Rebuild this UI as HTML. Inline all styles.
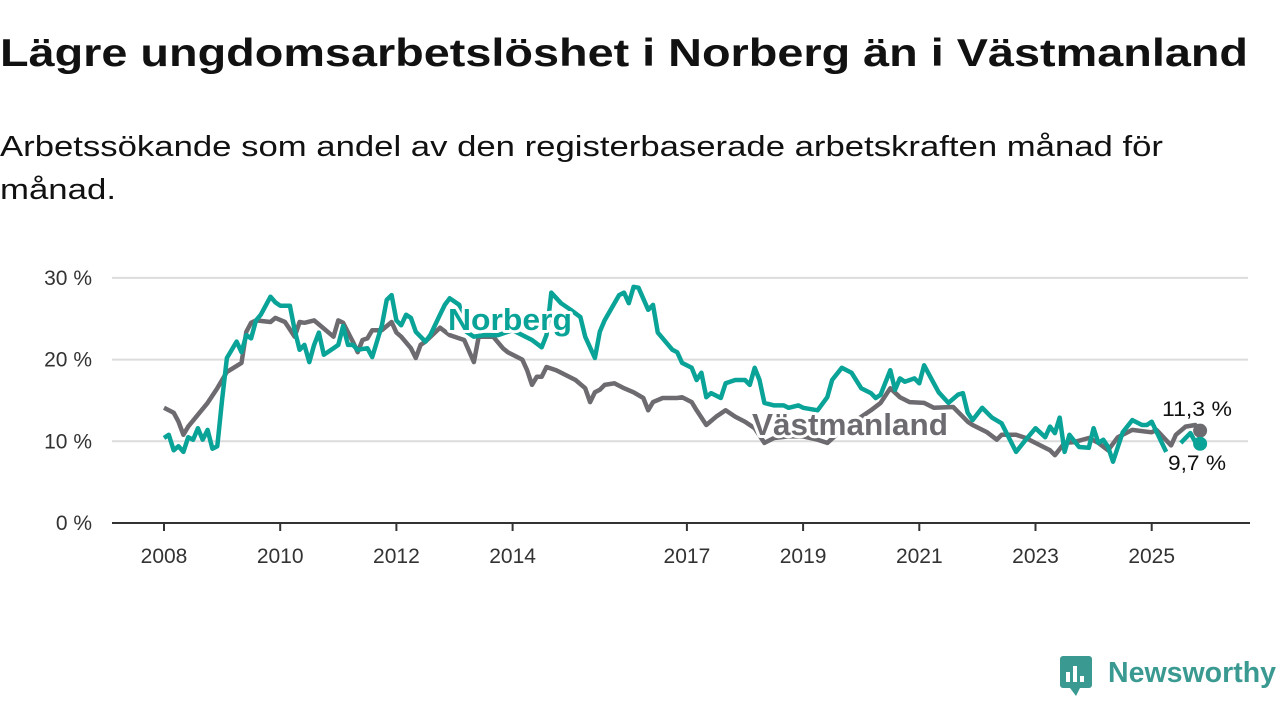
<!DOCTYPE html>
<html><head><meta charset="utf-8"><style>
body{margin:0;width:1280px;height:720px;background:#fff;overflow:hidden;font-family:"Liberation Sans",sans-serif}
</style></head><body>
<svg width="1280" height="720" xmlns="http://www.w3.org/2000/svg">
<text x="0" y="66" textLength="1248" lengthAdjust="spacingAndGlyphs" font-family="Liberation Sans, sans-serif" font-weight="bold" font-size="39" fill="#111">Lägre ungdomsarbetslöshet i Norberg än i Västmanland</text>
<text font-family="Liberation Sans, sans-serif" font-size="29" fill="#111"><tspan x="0" y="156" textLength="1163" lengthAdjust="spacingAndGlyphs">Arbetssökande som andel av den registerbaserade arbetskraften månad för</tspan><tspan x="0" y="199" textLength="116" lengthAdjust="spacingAndGlyphs">månad.</tspan></text>
<g id="grid"></g><g id="axes"></g><g id="lines"></g><g id="labels"></g>
<g>
<rect x="1060" y="656" width="32" height="32" rx="3" fill="#3a9a92"/>
<rect x="1066" y="672" width="4" height="10" fill="#fff"/><rect x="1073" y="666" width="4" height="16" fill="#fff"/><rect x="1080" y="676" width="4" height="6" fill="#fff"/>
<path d="M1070 688 L1076 696 L1080 688Z" fill="#3a9a92"/>
<text x="1108" y="682" textLength="168" lengthAdjust="spacingAndGlyphs" font-family="Liberation Sans, sans-serif" font-weight="bold" font-size="29" fill="#3a9a92">Newsworthy</text>
</g>
</svg>
<script>
const months=[0,1,2,3,4,5,6,7,8,9,10,11,12,13,15,16,17,18,19,20,22,23,24,26,27,28,29,30,31,32,33,35,36,37,38,39,40,42,43,45,46,47,48,49,50,51,52,54,55,57,58,59,61,62,64,66,69,72,76,78,79,80,82,84,86,87,89,90,91,94,95,96,97,98,100,101,102,105,106,107,109,110,111,112,113,115,116,118,120,121,122,123,124,126,128,129,131,132,135,137,138,140,142,144,146,147,148,150,151,152,153,155,156,157,159,160,162,164,165,166,167,169,171,173,176,178,180,182,183,184,185,186,187,189,191,192,193,194,195,196,198,200,202,203,204,207,208,210,212,213,214];
const norberg=[10.4,10.8,8.9,9.4,8.7,10.5,10.2,11.6,10.2,11.4,9.1,9.4,15.1,20.2,22.2,20.9,23.0,22.6,24.8,25.5,27.7,27.0,26.6,26.6,23.6,21.2,21.8,19.7,21.8,23.3,20.6,21.4,21.8,24.1,21.8,21.8,21.2,21.4,20.3,24.2,27.3,27.9,24.8,24.2,25.5,25.1,23.4,22.2,23.0,25.5,26.7,27.5,26.7,23.6,22.8,23.0,23.0,23.6,22.4,21.5,23.0,28.2,26.9,26.1,25.2,22.8,20.2,23.4,24.8,27.9,28.2,26.9,28.9,28.8,26.1,26.7,23.3,21.2,20.9,19.6,19.0,17.5,18.4,15.4,15.9,15.3,17.1,17.5,17.5,16.9,19.0,17.5,14.7,14.4,14.4,14.1,14.4,14.1,13.8,15.4,17.5,19.0,18.4,16.5,15.9,15.3,15.7,18.7,16.3,17.7,17.3,17.7,17.1,19.3,17.1,16.0,14.7,15.7,15.9,13.5,12.6,14.1,12.9,12.2,8.7,10.2,11.6,10.5,11.8,11.0,12.9,8.7,10.8,9.3,9.2,11.6,9.8,10.2,9.3,7.5,11.1,12.6,12.0,12.0,12.4,8.7,null,9.8,11.0,9.9,9.7];
const vmonths=[0,2,3,4,5,9,11,13,16,17,18,19,22,23,25,27,28,29,31,35,36,37,39,40,41,42,43,45,47,48,49,51,52,53,54,57,59,61,62,64,65,68,70,71,74,75,76,77,78,79,81,83,85,87,88,89,90,91,93,95,97,99,100,101,103,106,107,109,110,112,114,116,118,120,122,124,126,129,132,135,137,140,143,146,148,150,152,154,157,159,163,165,166,167,170,172,173,176,178,181,183,184,186,188,191,193,195,197,200,204,205,208,209,211,213,214];
const vastmanland=[14.1,13.5,12.4,10.8,11.8,14.7,16.5,18.5,19.6,23.4,24.5,24.8,24.6,25.1,24.6,22.8,24.6,24.5,24.8,22.8,24.8,24.5,22.2,20.9,22.4,22.6,23.6,23.6,24.6,23.3,22.8,21.4,20.2,21.8,22.2,23.9,23.0,22.6,22.4,19.7,22.8,22.8,21.4,20.9,20.0,18.7,16.9,17.9,17.9,19.1,18.7,18.1,17.5,16.5,14.8,16.0,16.3,16.9,17.1,16.5,16.0,15.3,13.8,14.8,15.3,15.3,15.4,14.8,13.8,12.0,13.0,13.8,13.0,12.4,11.6,9.8,10.4,10.6,10.6,10.2,9.8,11.4,12.6,13.8,14.7,16.5,15.4,14.8,14.7,14.1,14.2,13.0,12.4,12.0,11.1,10.2,10.8,10.8,10.4,9.5,8.9,8.3,9.8,9.9,10.4,9.8,8.9,10.5,11.4,11.1,11.4,9.5,10.8,11.8,12.0,11.3];
const yTicks=[0,10,20,30];
const yTickLabels=["0 %","10 %","20 %","30 %"];
const xTickMonths=[0,24,48,72,108,132,156,180,204];
const xTickLabels=["2008","2010","2012","2014","2017","2019","2021","2023","2025"];
const NS="http://www.w3.org/2000/svg";
const X=m=>164+m*58.1/12, Y=v=>523-v*8.17;
function mk(t,a,p){const e=document.createElementNS(NS,t);for(const k in a)e.setAttribute(k,a[k]);p.appendChild(e);return e;}
const grid=document.getElementById('grid'),axes=document.getElementById('axes'),lines=document.getElementById('lines'),labels=document.getElementById('labels');
yTicks.forEach((v,i)=>{
 if(v>0){const g=mk('line',{x1:112,x2:1248,y1:Y(v),y2:Y(v),stroke:'#dcdcdc','stroke-width':2},grid);
 
 }
 const t=mk('text',{x:92,y:Y(v)+7,'text-anchor':'end','font-size':21,fill:'#333','font-family':'Liberation Sans, sans-serif'},axes);
 t.textContent=yTickLabels[i];
 
 
});
const ax=mk('line',{x1:112,x2:1250,y1:523,y2:523,stroke:'#333','stroke-width':2},axes);


xTickMonths.forEach((m,i)=>{
 const tk=mk('line',{x1:X(m),x2:X(m),y1:523,y2:531,stroke:'#333','stroke-width':2},axes);
 
 
 const t=mk('text',{x:X(m),y:563,'text-anchor':'middle','font-size':21,fill:'#333','font-family':'Liberation Sans, sans-serif'},axes);
 t.textContent=xTickLabels[i];
 
 
});
function path(ms,vs){let d='',pen=false;ms.forEach((m,i)=>{const v=vs[i];if(v==null){pen=false;return;}d+=(pen?'L':'M')+X(m).toFixed(1)+' '+Y(v).toFixed(1);pen=true;});return d;}
const pv=mk('path',{d:path(vmonths,vastmanland),fill:'none',stroke:'#6d6b70','stroke-width':4.5,'stroke-linejoin':'round'},lines);


const pn=mk('path',{d:path(months,norberg),fill:'none',stroke:'#0aa398','stroke-width':4.5,'stroke-linejoin':'round'},lines);


const lv=vmonths.length-1,ln=months.length-1;
const dv=mk('circle',{cx:X(vmonths[lv]),cy:Y(vastmanland[lv]),r:7,fill:'#6d6b70'},lines);


const dn=mk('circle',{cx:X(months[ln]),cy:Y(norberg[ln]),r:7,fill:'#0aa398'},lines);


function lab(txt,x,y,col,sz,bold,anchor,name,len){
 const t=mk('text',{x:x,y:y,'text-anchor':anchor,'font-size':sz,'font-weight':bold?'bold':'normal',fill:col,stroke:'#fff','stroke-width':6,'paint-order':'stroke','stroke-linejoin':'round','font-family':'Liberation Sans, sans-serif'},labels);
 if(len){t.setAttribute('textLength',len);t.setAttribute('lengthAdjust','spacingAndGlyphs');}
 t.textContent=txt;
 
 
}
lab('Norberg',510,330,'#0aa398',31,true,'middle','norberg-label',124);
lab('Västmanland',850,435,'#6d6b70',31,true,'middle','vastmanland-label',196);
lab(vastmanland[lv].toFixed(1).replace('.',',')+' %',1197,416,'#111',21,false,'middle','vastmanland-value-label',70);
lab(norberg[ln].toFixed(1).replace('.',',')+' %',1197,470,'#111',21,false,'middle','norberg-value-label',58);
</script>
</body></html>
